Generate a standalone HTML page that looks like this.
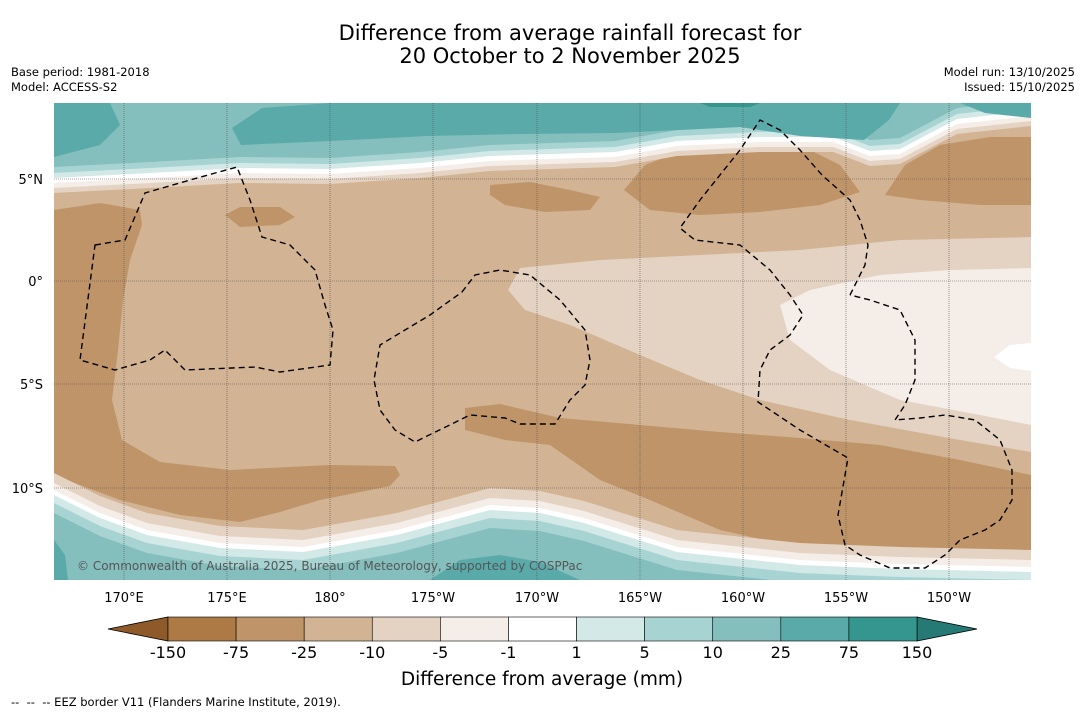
<!DOCTYPE html>
<html><head><meta charset="utf-8">
<style>
html,body{margin:0;padding:0;background:#fff;}
body{width:1085px;height:713px;overflow:hidden;position:relative;font-family:"DejaVu Sans","Liberation Sans",sans-serif;}
.t{position:absolute;white-space:nowrap;color:#000;}
</style></head><body>
<div class="t" style="left:0;width:1140px;text-align:center;top:22px;font-size:21px;line-height:23px;">Difference from average rainfall forecast for<br>20 October to 2 November 2025</div>
<div class="t" style="left:11px;top:65px;font-size:11.5px;line-height:15px;">Base period: 1981-2018<br>Model: ACCESS-S2</div>
<div class="t" style="right:10px;top:65px;font-size:11.5px;line-height:15px;text-align:right;">Model run: 13/10/2025<br>Issued: 15/10/2025</div>

<svg width="1085" height="713" style="position:absolute;left:0;top:0">
<defs><clipPath id="mc"><rect x="54" y="103" width="977" height="477"/></clipPath></defs>
<g clip-path="url(#mc)">
<rect x="54" y="103" width="977" height="477" fill="#d2b394"/>
<path fill="#e4d2c2" d="M1031,237 L900,240 L800,250 L700,255 L600,260 L520,268 L508,290 L525,310 L570,325 L640,355 L700,380 L760,400 L850,420 L960,440 L1031,452 Z"/>
<path fill="#f5ede8" d="M1031,268 L950,270 L880,275 L810,290 L780,305 L790,340 L830,370 L900,400 L980,415 L1031,425 Z"/>
<path fill="#ffffff" d="M1031,343 L1010,345 L994,357 L1010,368 L1031,371 Z"/>
<path fill="#bf9469" d="M54,210 L100,203 L140,210 L142,225 L130,260 L123,300 L118,350 L112,400 L122,440 L160,462 L230,470 L330,465 L395,466 L400,475 L390,486 L320,500 L280,512 L240,522 L180,515 L120,500 L80,485 L54,475 Z"/>
<path fill="#bf9469" d="M465,408 L500,404 L560,418 L640,425 L720,432 L800,438 L880,445 L960,460 L1031,475 L1031,580 L960,570 L880,560 L800,548 L720,530 L650,500 L600,480 L550,445 L505,440 L465,430 Z"/>
<path fill="#bf9469" d="M624,190 L645,165 L690,148 L750,140 L800,145 L840,165 L860,192 L820,205 L760,212 L700,215 L650,210 Z"/>
<path fill="#bf9469" d="M885,195 L905,165 L940,145 L990,137 L1031,137 L1031,205 L980,205 L920,200 Z"/>
<path fill="#bf9469" d="M490,185 L530,182 L570,190 L600,197 L590,210 L545,212 L505,205 L490,195 Z"/>
<path fill="#bf9469" d="M225,215 L240,207 L280,207 L295,217 L280,225 L240,227 Z"/>
<g id="bands"></g>
<path fill="#5aaaaa" d="M232,128 L262,108 L330,103 L900,103 L889,120 L864,140 L800,136 L740,127 L680,130 L615,133 L520,134 L428,136 L330,141 L241,145 Z"/>
<path fill="#5aaaaa" d="M54,103 L110,103 L120,125 L100,145 L54,157 Z"/>
<path fill="#5aaaaa" d="M960,103 L1031,103 L1031,118 L985,113 Z"/>
<path fill="#35958f" d="M700,103 L760,103 L750,107 L710,107 Z"/>
<g stroke="#555" stroke-width="0.6" stroke-dasharray="1,1" fill="none">
<line x1="124" y1="103" x2="124" y2="580"/><line x1="227" y1="103" x2="227" y2="580"/><line x1="330" y1="103" x2="330" y2="580"/><line x1="433" y1="103" x2="433" y2="580"/><line x1="537" y1="103" x2="537" y2="580"/><line x1="640" y1="103" x2="640" y2="580"/><line x1="743" y1="103" x2="743" y2="580"/><line x1="846" y1="103" x2="846" y2="580"/><line x1="949" y1="103" x2="949" y2="580"/>
<line x1="54" y1="179" x2="1031" y2="179"/><line x1="54" y1="281" x2="1031" y2="281"/><line x1="54" y1="384" x2="1031" y2="384"/><line x1="54" y1="488" x2="1031" y2="488"/>
</g>
<g stroke="#000" stroke-width="1.4" stroke-dasharray="6,4" fill="none">
<polygon points="95,245 125,240 145,193 190,180 237,167 250,200 262,237 290,245 315,270 325,305 333,330 330,365 280,372 255,367 185,370 165,350 150,360 115,370 80,360"/>
<polygon points="462,292 475,275 500,270 530,275 560,300 585,330 590,360 585,385 570,400 555,424 520,424 505,418 470,415 415,442 395,430 380,410 374,380 380,345 430,315"/>
<polyline points="850,295 865,265 868,245 860,220 850,200 822,175 800,150 780,130 760,120 740,150 700,200 680,228 695,240 740,245 770,270 790,295 803,315 790,335 770,350 760,370 758,402 800,430 848,458 838,515 845,545 860,555 890,568 925,568 945,555 960,540 985,530 1000,520 1012,500 1012,470 1000,440 975,420 945,415 920,418 895,420 905,405 915,380 915,340 900,310 870,300 850,295"/>
</g>
</g>
<text x="77" y="570" font-size="12" fill="#555" font-family="DejaVu Sans, sans-serif">© Commonwealth of Australia 2025, Bureau of Meteorology, supported by COSPPac</text>
<g font-size="13" fill="#000" font-family="DejaVu Sans, sans-serif">
<text x="43" y="184" text-anchor="end">5°N</text><text x="43" y="286" text-anchor="end">0°</text><text x="43" y="389" text-anchor="end">5°S</text><text x="43" y="493" text-anchor="end">10°S</text>
</g>
<g font-size="13" fill="#000" text-anchor="middle" font-family="DejaVu Sans, sans-serif">
<text x="124" y="602">170°E</text><text x="227" y="602">175°E</text><text x="330" y="602">180°</text><text x="433" y="602">175°W</text><text x="537" y="602">170°W</text><text x="640" y="602">165°W</text><text x="743" y="602">160°W</text><text x="846" y="602">155°W</text><text x="949" y="602">150°W</text>
</g>
<g id="cbar"></g>
<text x="542" y="685" font-size="18.5" text-anchor="middle" font-family="DejaVu Sans, sans-serif">Difference from average (mm)</text>
<text x="11" y="706" font-size="11.5" font-family="DejaVu Sans, sans-serif" xml:space="preserve" style="white-space:pre">--  --  -- EEZ border V11 (Flanders Marine Institute, 2019).</text>
</svg>
<script>
const levelLabels = ["-150","-75","-25","-10","-5","-1","1","5","10","25","75","150"];
const binColors = ["#ad7a45","#bf9469","#d2b394","#e4d2c2","#f5ede8","#ffffff","#d3e9e7","#a7d4d2","#84bfbd","#5aaaaa","#35958f"];
const extColors = ["#8f5a2a","#267a75"];
const NS="http://www.w3.org/2000/svg";
const topLine=[[54,179],[150,174],[240,169],[330,170],[420,164],[490,157],[615,153],[677,142],[760,138],[833,138],[870,152],[900,150],[957,120],[1031,112]];
const botLine=[[54,495],[100,518],[147,535],[220,548],[303,552],[397,535],[490,510],[540,513],[584,523],[677,552],[800,565],[900,569],[1031,572]];
const topLayers=[[14,"#e4d2c2"],[9,"#f5ede8"],[4,"#ffffff"],[-1,"#d3e9e7"],[-6,"#a7d4d2"],[-12,"#84bfbd"]];
const botLayers=[[-22,"#e4d2c2"],[-12,"#f5ede8"],[-5,"#ffffff"],[0,"#d3e9e7"],[8,"#a7d4d2"],[18,"#84bfbd"]];
const bg=document.getElementById('bands');
topLayers.forEach(([o,c])=>{
  const p=document.createElementNS(NS,'path');
  p.setAttribute('d','M54,103 L1031,103 '+topLine.slice().reverse().map(q=>'L'+q[0]+','+(q[1]+o)).join(' ')+' Z');
  p.setAttribute('fill',c);
  
  
  bg.appendChild(p);
});
botLayers.forEach(([o,c])=>{
  const p=document.createElementNS(NS,'path');
  p.setAttribute('d','M54,580 '+botLine.map(q=>'L'+q[0]+','+(q[1]+o)).join(' ')+' L1031,580 Z');
  p.setAttribute('fill',c);
  
  
  bg.appendChild(p);
});
const bp=document.createElementNS(NS,'path');
bp.setAttribute('d','M54,540 L65,555 L68,580 L54,580 Z M430,580 L460,560 L500,555 L540,562 L580,580 Z');
bp.setAttribute('fill','#5aaaaa');


bg.appendChild(bp);

const g=document.getElementById('cbar');
const x0=168,x1=917,y0=617,h=24,w=(x1-x0)/binColors.length;
function mk(t,a){const e=document.createElementNS(NS,t);for(const k in a)e.setAttribute(k,a[k]);g.appendChild(e);return e;}
const lt=mk('polygon',{points:`${x0},${y0} ${x0},${y0+h} 108,${y0+h/2}`,fill:extColors[0],stroke:'#000','stroke-width':0.8});


const rt=mk('polygon',{points:`${x1},${y0} ${x1},${y0+h} 977,${y0+h/2}`,fill:extColors[1],stroke:'#000','stroke-width':0.8});


binColors.forEach((c,i)=>{
  const r=mk('rect',{x:x0+i*w,y:y0,width:w,height:h,fill:c,stroke:'#000','stroke-width':0.6});
  
  
});
levelLabels.forEach((l,i)=>{
  const t=mk('text',{x:x0+i*w,y:658,'font-size':16,'text-anchor':'middle','font-family':'DejaVu Sans, sans-serif'});
  t.textContent=l;
  
  
});
</script>
</body></html>
